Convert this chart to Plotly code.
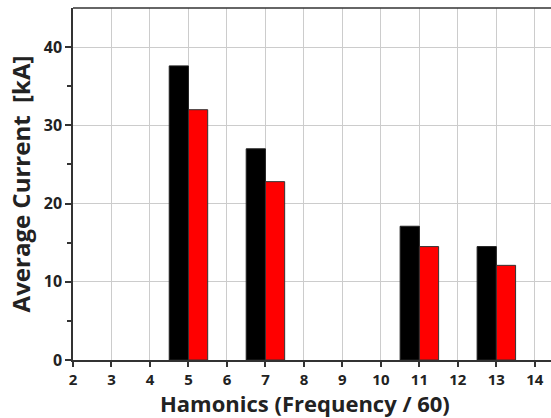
import plotly.graph_objects as go

harmonics = [5, 7, 11, 13]
series_a = [37.6, 27.0, 17.1, 14.5]   # black bars
series_b = [32.0, 22.8, 14.5, 12.1]   # red bars
x_ticks = list(range(2, 15))
y_ticks = [0, 10, 20, 30, 40]

FONT = "Open Sans"

fig = go.Figure()
fig.add_trace(go.Bar(x=harmonics, y=series_a, width=0.5, offset=-0.5,
                     marker=dict(color="#000000", line=dict(color="#222222", width=1)),
                     name="A"))
fig.add_trace(go.Bar(x=harmonics, y=series_b, width=0.5, offset=0,
                     marker=dict(color="#ff0000", line=dict(color="#333333", width=1)),
                     name="B"))

fig.update_layout(
    width=551, height=418,
    margin=dict(l=73, r=0, t=8, b=58),
    plot_bgcolor="white", paper_bgcolor="white",
    showlegend=False, barmode="overlay",
    font=dict(family=FONT, color="#111111"),
)
fig.update_xaxes(
    range=[2, 14.42], tickvals=x_ticks, ticktext=[str(v) for v in x_ticks],
    showgrid=True, gridcolor="#cccccc", gridwidth=1.2,
    showline=True, linecolor="#333333", linewidth=1.5,
    ticks="outside", ticklen=5, tickcolor="#333333", tickwidth=1.5,
    tickfont=dict(family=FONT, size=15, color="#222222", weight="bold"),
    zeroline=False,
)
fig.update_yaxes(
    range=[0, 45], tickvals=y_ticks,
    showgrid=True, gridcolor="#cccccc", gridwidth=1.2,
    showline=True, linecolor="#333333", linewidth=1.5,
    ticks="outside", ticklen=6, tickcolor="#333333", tickwidth=1.5,
    minor=dict(tickvals=[5, 15, 25, 35], ticks="outside", ticklen=4, tickcolor="#333333", showgrid=False),
    tickfont=dict(family=FONT, size=16, color="#222222", weight="bold"),
    title=dict(text="<b>Average Current&nbsp; [kA]</b>", font=dict(family=FONT, size=24, color="#222222"), standoff=6),
    zeroline=False,
)
# x-axis title placed at the bottom edge
fig.add_annotation(text="<b>Hamonics (Frequency / 60)</b>", xref="paper", yref="paper",
                   x=0.485, y=0, xanchor="center", yanchor="bottom", yshift=-59,
                   showarrow=False, borderpad=0,
                   font=dict(family=FONT, size=22, color="#222222"))
# top border line
fig.add_shape(type="line", xref="paper", yref="paper", x0=0, x1=1, y0=1, y1=1,
              line=dict(color="#333333", width=1.5))

fig.write_html("out.html")
